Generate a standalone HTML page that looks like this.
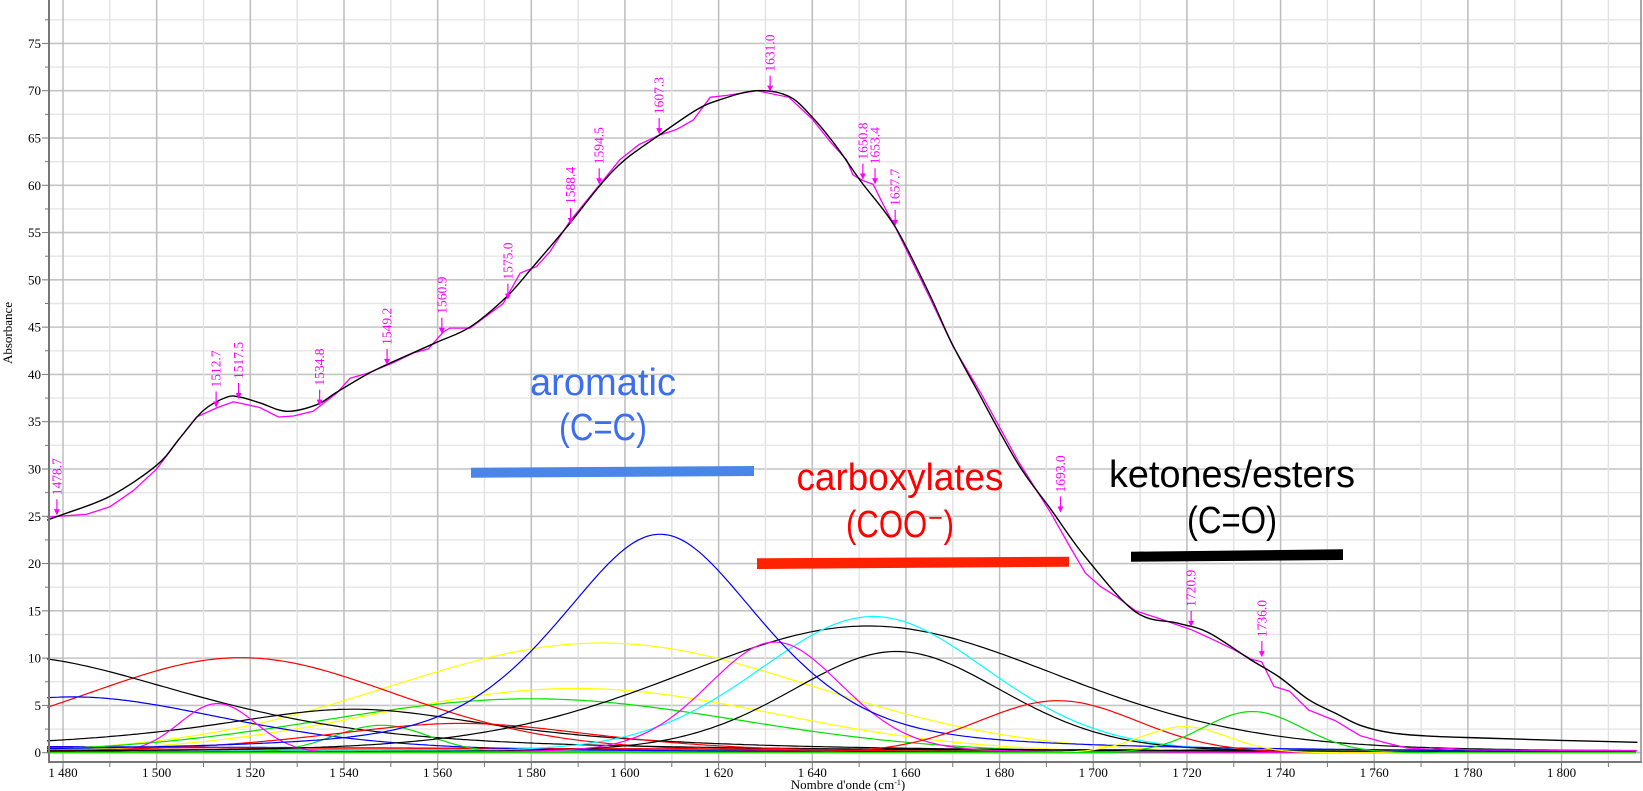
<!DOCTYPE html>
<html><head><meta charset="utf-8">
<style>
html,body{margin:0;padding:0;background:#fff;}
svg{display:block;}
.t{font-family:"Liberation Serif",serif;font-size:13px;fill:#000;}
.pk{font-family:"Liberation Serif",serif;font-size:13.5px;fill:#ff00ff;}
.an{font-family:"Liberation Sans",sans-serif;}
</style></head>
<body>
<svg id="s" width="1643" height="791" viewBox="0 0 1643 791" xmlns="http://www.w3.org/2000/svg">
<g id="grid"></g>
<g id="comps" fill="none" stroke-width="1.2"></g>
<g id="main" fill="none"></g>
<g id="peaks"></g>
<g id="axes"></g>
<text class="t" x="12" y="333" font-size="12" text-anchor="middle" transform="rotate(-90 12 333)">Absorbance</text>
<text class="t" x="848" y="789" font-size="12" text-anchor="middle">Nombre d'onde (cm<tspan baseline-shift="super" font-size="8">-1</tspan>)</text>

<text class="an" x="603" y="395" font-size="38" fill="#3c6ef0" text-anchor="middle" textLength="146" lengthAdjust="spacingAndGlyphs">aromatic</text>
<text class="an" x="603" y="440" font-size="38" fill="#3c6ef0" text-anchor="middle" textLength="88" lengthAdjust="spacingAndGlyphs">(C=C)</text>
<polygon points="471,467.7 754,466 754,476 471,477.7" fill="#4a86e8"/>
<text class="an" x="900" y="490" font-size="38" fill="#ff0000" text-anchor="middle" textLength="207" lengthAdjust="spacingAndGlyphs">carboxylates</text>
<text class="an" x="900" y="537" font-size="38" fill="#ff0000" text-anchor="middle" textLength="108" lengthAdjust="spacingAndGlyphs">(COO⁻)</text>
<polygon points="757,558.3 1069,556.7 1069,566.7 757,569" fill="#ff2200"/>
<text class="an" x="1232" y="487" font-size="38" fill="#000" text-anchor="middle" textLength="246" lengthAdjust="spacingAndGlyphs">ketones/esters</text>
<text class="an" x="1232" y="533" font-size="38" fill="#000" text-anchor="middle" textLength="90" lengthAdjust="spacingAndGlyphs">(C=O)</text>
<polygon points="1131,551.7 1343,549.3 1343,560 1131,561.7" fill="#000"/>

<g id="pl">
<text class="pk" data-w="1478.7" data-a="25.0">1478.7</text>
<text class="pk" data-w="1512.7" data-a="36.4">1512.7</text>
<text class="pk" data-w="1517.5" data-a="37.3">1517.5</text>
<text class="pk" data-w="1534.8" data-a="36.6">1534.8</text>
<text class="pk" data-w="1549.2" data-a="40.9">1549.2</text>
<text class="pk" data-w="1560.9" data-a="44.2">1560.9</text>
<text class="pk" data-w="1575.0" data-a="47.8">1575.0</text>
<text class="pk" data-w="1588.4" data-a="55.8">1588.4</text>
<text class="pk" data-w="1594.5" data-a="60.0">1594.5</text>
<text class="pk" data-w="1607.3" data-a="65.3">1607.3</text>
<text class="pk" data-w="1631.0" data-a="69.8">1631.0</text>
<text class="pk" data-w="1650.8" data-a="60.5">1650.8</text>
<text class="pk" data-w="1653.4" data-a="60.0">1653.4</text>
<text class="pk" data-w="1657.7" data-a="55.6">1657.7</text>
<text class="pk" data-w="1693.0" data-a="25.3">1693.0</text>
<text class="pk" data-w="1720.9" data-a="13.2">1720.9</text>
<text class="pk" data-w="1736.0" data-a="10.0">1736.0</text>
</g>
</svg>
<script>
(function(){
var NS="http://www.w3.org/2000/svg";
function X(w){return 63+(w-1480)*4.683;}
function Y(a){return 752.7-a*9.457;}
function el(p,tag,at){var e=document.createElementNS(NS,tag);for(var k in at)e.setAttribute(k,at[k]);p.appendChild(e);return e;}
var W0=1476.6,W1=1816.2;
var grid=document.getElementById('grid');
for(var a=0;a<=80;a+=2.5){var y=Y(a);if(y<0)continue;var maj=(a%5===0);
 el(grid,'line',{x1:49,x2:1641,y1:y,y2:y,stroke:maj?'#c4c4c4':'#e6e6e6','stroke-width':maj?1.6:1.4});}
for(var w=1480;w<=1810;w+=10){var x=X(w);var maj=(w%20===0);
 el(grid,'line',{x1:x,x2:x,y1:0,y2:762,stroke:maj?'#bdbdbd':'#e2e2e2','stroke-width':maj?1.5:1.4});}
function pv(w,c,h,f,eta){var s=f/2.3548,d=w-c;var g=Math.exp(-d*d/(2*s*s));var l=1/(1+(d/(f/2))*(d/(f/2)));return h*((1-eta)*g+eta*l);}
var comps=[
 ['#ffff00',1595,11.6,106,0],
 ['#ffff00',1589.5,6.8,100,0],
 ['#00e000',1580,5.7,104,0],
 ['#ff0000',1518,10.05,80,0.2],
 ['#000000',1468,10.2,95,0.6],
 ['#0000ff',1482,5.9,80,0.4],
 ['#000000',1542,4.6,80,1],
 ['#ff00ff',1513,5.2,19,0],
 ['#00e000',1548,2.9,24,0],
 ['#ff0000',1565,3.1,70,0.5],
 ['#000000',1652,13.4,97,0.2],
 ['#00ffff',1653,14.4,58,0.15],
 ['#000000',1658,10.7,54,0.2],
 ['#ff00ff',1632,11.7,34,0.15],
 ['#0000ff',1607.5,23.1,52,0.5],
 ['#ff0000',1692.5,5.5,40,0.05],
 ['#ffff00',1719.5,2.75,22,0],
 ['#00e000',1734,4.35,25,0]
];
var cg=document.getElementById('comps');
function curve(f,color,sw,parent){var d='';for(var w=W0;w<=W1;w+=0.8){d+=(d?'L':'M')+X(w).toFixed(1)+','+Y(f(w)).toFixed(1);}
 el(parent,'path',{d:d,stroke:color,'stroke-width':sw||1.2,fill:'none'});}
var base=[
 ['#00ffff',function(w){return 0.25;}],
 ['#8080ff',function(w){return 0.15;}],
 ['#ff00ff',function(w){return 0.05;}],
 ['#0000ff',function(w){return w<1600?0.65-0.25*(w-W0)/123:0.4-0.2*(w-1600)/216;}],
 ['#ff0000',function(w){return 0.55-0.35*(w-W0)/340;}],
 ['#00e000',function(w){return 0.35-0.2*(w-W0)/340;}],
 ['#ffaa00',function(w){return 0.02;}]
];
base.forEach(function(b){curve(b[1],b[0],1.2,cg);});
comps.forEach(function(c){curve(function(w){return pv(w,c[1],c[2],c[3],c[4]);},c[0],1.2,cg);});
var bk=[[1476.6,24.6],[1480,25.2],[1490,27.1],[1500,30.4],[1505,33.3],[1510,36.2],[1515,37.6],[1517.8,37.6],[1522,37.0],[1527.8,36.1],[1534.2,36.8],[1538.4,38.1],[1544.9,40.0],[1549.8,41.2],[1559.8,43.4],[1566.9,45.0],[1574.7,48.2],[1580.4,51.4],[1587.6,55.6],[1594.7,60.0],[1600,62.7],[1607.3,65.3],[1615,67.9],[1620,69.0],[1628,70.0],[1635,69.4],[1640,67.2],[1645,64.2],[1650.4,60.4],[1657.7,55.6],[1665,48.5],[1669.5,43.6],[1675,38.5],[1684,30.5],[1691,25.7],[1698.3,20.7],[1709,14.9],[1718,13.7],[1724.6,12.7],[1733.7,9.8],[1739.7,8.0],[1746,5.6],[1751.6,4.2],[1757,2.9],[1763.6,2.1],[1772,1.75],[1783,1.55],[1800,1.3],[1816.2,1.1]];
var mg=[[1476.6,24.9],[1478.7,25.0],[1485,25.2],[1490,26.0],[1495,27.7],[1500,30.0],[1505,33.3],[1508.5,35.5],[1513,36.5],[1516.4,37.1],[1522,36.5],[1526,35.5],[1529.2,35.6],[1533.4,36.1],[1538.4,38.0],[1541.3,39.6],[1544.9,40.1],[1550.3,41.2],[1555,42.3],[1558,42.7],[1561.2,44.5],[1562.6,44.9],[1566.9,44.9],[1574,47.5],[1577.6,50.7],[1581.1,51.4],[1584,53.0],[1588.4,56.3],[1594.5,60.0],[1598.9,62.7],[1603,64.3],[1607.3,65.3],[1611,65.9],[1614.6,66.9],[1618.2,69.3],[1621.8,69.5],[1628.2,70.0],[1635,69.3],[1640,67.0],[1644,64.5],[1647.3,62.7],[1648.7,61.1],[1650.8,60.5],[1653,60.1],[1655.1,58.0],[1657.7,55.6],[1665,48.2],[1670,43.0],[1676,38.0],[1684,30.8],[1691,25.3],[1695,21.8],[1698.3,19.0],[1701.5,17.6],[1705,16.5],[1709,15.0],[1714,14.2],[1718,13.5],[1721,13.0],[1725,12.1],[1730,10.9],[1733.7,9.9],[1736,9.6],[1738.6,7.0],[1741.9,6.5],[1746,4.5],[1751.6,3.4],[1757,1.8],[1762,1.1],[1767,0.5],[1772,0.35],[1776,0.45],[1780,0.3],[1800,0.25],[1816.2,0.2]];
var mainG=document.getElementById('main');
function pathLin(pts){return pts.map(function(p,i){return (i?'L':'M')+X(p[0]).toFixed(1)+','+Y(p[1]).toFixed(1);}).join('');}
function pathCR(pts){var P=pts.map(function(p){return [X(p[0]),Y(p[1])];});var d='M'+P[0][0].toFixed(1)+','+P[0][1].toFixed(1);
 for(var i=0;i<P.length-1;i++){var p0=P[i-1]||P[i],p1=P[i],p2=P[i+1],p3=P[i+2]||p2;
  var c1=[p1[0]+(p2[0]-p0[0])/6,p1[1]+(p2[1]-p0[1])/6],c2=[p2[0]-(p3[0]-p1[0])/6,p2[1]-(p3[1]-p1[1])/6];
  d+='C'+c1[0].toFixed(1)+','+c1[1].toFixed(1)+' '+c2[0].toFixed(1)+','+c2[1].toFixed(1)+' '+p2[0].toFixed(1)+','+p2[1].toFixed(1);}
 return d;}
el(mainG,'path',{d:pathLin(mg),stroke:'#ff00ff','stroke-width':1.3,fill:'none'});
el(mainG,'path',{d:pathCR(bk),stroke:'#000','stroke-width':1.4,fill:'none'});
var pk=document.getElementById('peaks');
var labels=document.querySelectorAll('#pl text');
for(var i=0;i<labels.length;i++){var t=labels[i];var w=+t.getAttribute('data-w'),a=+t.getAttribute('data-a');
 var x=X(w),y=Y(a);
 el(pk,'line',{x1:x,x2:x,y1:y-17,y2:y-2,stroke:'#ff00ff','stroke-width':1.2});
 el(pk,'polygon',{points:(x-3)+','+(y-7)+' '+(x+3)+','+(y-7)+' '+x+','+(y-1),fill:'#ff00ff'});
 var tx=x+4.5,ty=y-21;
 t.setAttribute('x',tx);t.setAttribute('y',ty);t.setAttribute('transform','rotate(-90 '+tx+' '+ty+')');}
var ax=document.getElementById('axes');
el(ax,'line',{x1:49,x2:49,y1:0,y2:763,stroke:'#777','stroke-width':2});
el(ax,'line',{x1:48,x2:1642,y1:762,y2:762,stroke:'#777','stroke-width':2});
el(ax,'line',{x1:1641,x2:1641,y1:0,y2:763,stroke:'#888','stroke-width':1.5});
for(var a=0;a<=77.5;a+=2.5){var y=Y(a);var maj=(a%5===0);
 el(ax,'line',{x1:maj?42:45,x2:49,y1:y,y2:y,stroke:'#777','stroke-width':1});
 if(maj){var tt=el(ax,'text',{x:41,y:y+4.5,'text-anchor':'end','class':'t'});tt.textContent=String(a);}}
for(var w=1480;w<=1810;w+=10){var x=X(w);var maj=(w%20===0);
 el(ax,'line',{x1:x,x2:x,y1:762,y2:maj?769:767,stroke:'#777','stroke-width':1});
 if(maj){var tt=el(ax,'text',{x:x,y:777,'text-anchor':'middle','class':'t'});tt.textContent='1 '+String(w).slice(1);}}
})();
</script>
</body></html>
